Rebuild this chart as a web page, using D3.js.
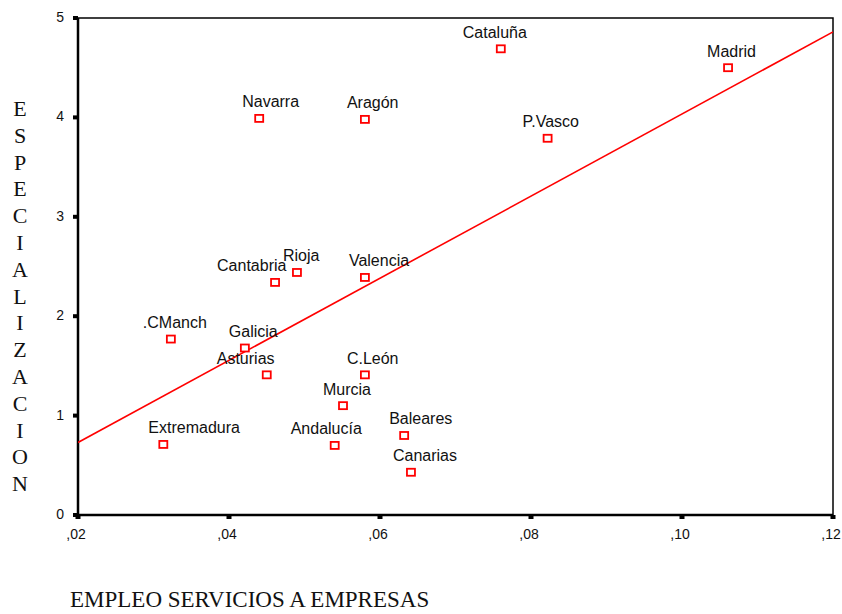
<!DOCTYPE html>
<html>
<head>
<meta charset="utf-8">
<script src="https://cdn.jsdelivr.net/npm/d3@7"></script>
<style>
  html, body { margin: 0; padding: 0; background: #fff; overflow: hidden; }
  #chart { width: 842px; height: 614px; }
  .pt-label { font-family: "Liberation Sans", Arial, sans-serif; font-size: 16px; fill: #111; }
  .tick-label { font-family: "Liberation Sans", Arial, sans-serif; font-size: 14px; fill: #111; }
  .title { font-family: "Liberation Serif", "Times New Roman", serif; fill: #111; }
</style>
</head>
<body>
<div id="chart"></div>
<script>
'use strict';

// data
const regions = ['Cataluña', 'Madrid', 'P.Vasco', 'Navarra', 'Aragón', 'Rioja', 'Cantabria',
  'Valencia', '.CManch', 'Galicia', 'Asturias', 'C.León', 'Murcia', 'Extremadura',
  'Andalucía', 'Baleares', 'Canarias'];
const empleo = [0.0760, 0.1061, 0.0822, 0.0440, 0.0580, 0.0490, 0.0461,
  0.0580, 0.0323, 0.0421, 0.0450, 0.0580, 0.0551, 0.0313,
  0.0540, 0.0632, 0.0641];
const especializacion = [4.69, 4.50, 3.79, 3.99, 3.98, 2.44, 2.34,
  2.39, 1.77, 1.68, 1.41, 1.41, 1.10, 0.71,
  0.70, 0.80, 0.43];
const fitX = [0.02, 0.12];
const fitY = [0.73, 4.86];
const xTicks = [0.02, 0.04, 0.06, 0.08, 0.10, 0.12];
const xTickLabels = [',02', ',04', ',06', ',08', ',10', ',12'];
const yTicks = [0, 1, 2, 3, 4, 5];
const xTitle = 'EMPLEO SERVICIOS A EMPRESAS';
const yTitle = 'ESPECIALIZACION';

// label nudges (left edge of text relative to the marker), as in the original
const LABEL_DX = {
  'Cataluña': -38, 'Madrid': -21, 'P.Vasco': -25, 'Navarra': -17, 'Aragón': -18,
  'Rioja': -14, 'Cantabria': -58, 'Valencia': -16, '.CManch': -28, 'Galicia': -16,
  'Asturias': -50, 'C.León': -18, 'Murcia': -20, 'Extremadura': -15,
  'Andalucía': -44, 'Baleares': -15, 'Canarias': -18,
};

const W = 842, H = 614;
const PLOT = { left: 78, right: 833, top: 18, bottom: 515 };
const RED = '#ff0000';

const x = d3.scaleLinear().domain([0.02, 0.12]).range([PLOT.left, PLOT.right]);
const y = d3.scaleLinear().domain([0, 5]).range([PLOT.bottom, PLOT.top]);

const svg = d3.select('#chart').append('svg')
  .attr('width', W)
  .attr('height', H);

// frame
svg.append('rect')
  .attr('x', PLOT.left).attr('y', PLOT.top)
  .attr('width', PLOT.right - PLOT.left).attr('height', PLOT.bottom - PLOT.top)
  .attr('fill', 'none').attr('stroke', '#000').attr('stroke-width', 1.5);
svg.append('line')
  .attr('x1', PLOT.left).attr('x2', PLOT.left).attr('y1', PLOT.top).attr('y2', PLOT.bottom)
  .attr('stroke', '#000').attr('stroke-width', 2.5);
svg.append('line')
  .attr('x1', PLOT.left).attr('x2', PLOT.right).attr('y1', PLOT.bottom).attr('y2', PLOT.bottom)
  .attr('stroke', '#000').attr('stroke-width', 2.5);

// y ticks: small squares outside the axis
const yAx = svg.append('g');
yTicks.forEach(t => {
  yAx.append('rect')
    .attr('x', PLOT.left - 5).attr('y', y(t) - 2)
    .attr('width', 5).attr('height', 4)
    .attr('fill', '#000');
  yAx.append('text')
    .attr('class', 'tick-label')
    .attr('x', PLOT.left - 14).attr('y', y(t) + 4)
    .attr('text-anchor', 'end')
    .text(t);
});

// x ticks
const xAx = svg.append('g');
xTicks.forEach((t, i) => {
  xAx.append('rect')
    .attr('x', x(t) - 2.5).attr('y', PLOT.bottom)
    .attr('width', 5).attr('height', 4)
    .attr('fill', '#000');
  xAx.append('text')
    .attr('class', 'tick-label')
    .attr('x', x(t) - 2).attr('y', PLOT.bottom + 24)
    .attr('text-anchor', 'middle')
    .text(xTickLabels[i]);
});

// fit line
svg.append('clipPath').attr('id', 'plot-clip')
  .append('rect')
  .attr('x', PLOT.left).attr('y', PLOT.top)
  .attr('width', PLOT.right - PLOT.left).attr('height', PLOT.bottom - PLOT.top);

svg.append('path')
  .datum(fitX.map((v, i) => [v, fitY[i]]))
  .attr('clip-path', 'url(#plot-clip)')
  .attr('fill', 'none')
  .attr('stroke', RED)
  .attr('stroke-width', 1.6)
  .attr('d', d3.line().x(d => x(d[0])).y(d => y(d[1])));

// points
const points = regions.map((name, i) => ({ name, ex: empleo[i], es: especializacion[i] }));

const pts = svg.append('g');
pts.selectAll('rect')
  .data(points)
  .join('rect')
  .attr('x', d => x(d.ex) - 4)
  .attr('y', d => y(d.es) - 3.5)
  .attr('width', 8)
  .attr('height', 7)
  .attr('fill', '#fff')
  .attr('stroke', RED)
  .attr('stroke-width', 1.8);

pts.selectAll('text')
  .data(points)
  .join('text')
  .attr('class', 'pt-label')
  .attr('x', d => x(d.ex) + (LABEL_DX[d.name] ?? -20))
  .attr('y', d => y(d.es) - 11)
  .text(d => d.name);

// y title: stacked letters
const yt = svg.append('g');
yTitle.split('').forEach((ch, i) => {
  yt.append('text')
    .attr('class', 'title')
    .attr('x', 20)
    .attr('y', 108 + i * 26.8 + 8)
    .attr('text-anchor', 'middle')
    .style('font-size', '22px')
    .text(ch);
});

// x title, near the bottom edge as in the original
svg.append('text')
  .attr('class', 'title')
  .attr('x', 70)
  .attr('y', 607)
  .style('font-size', '23px')
  .text(xTitle);
</script>
</body>
</html>
